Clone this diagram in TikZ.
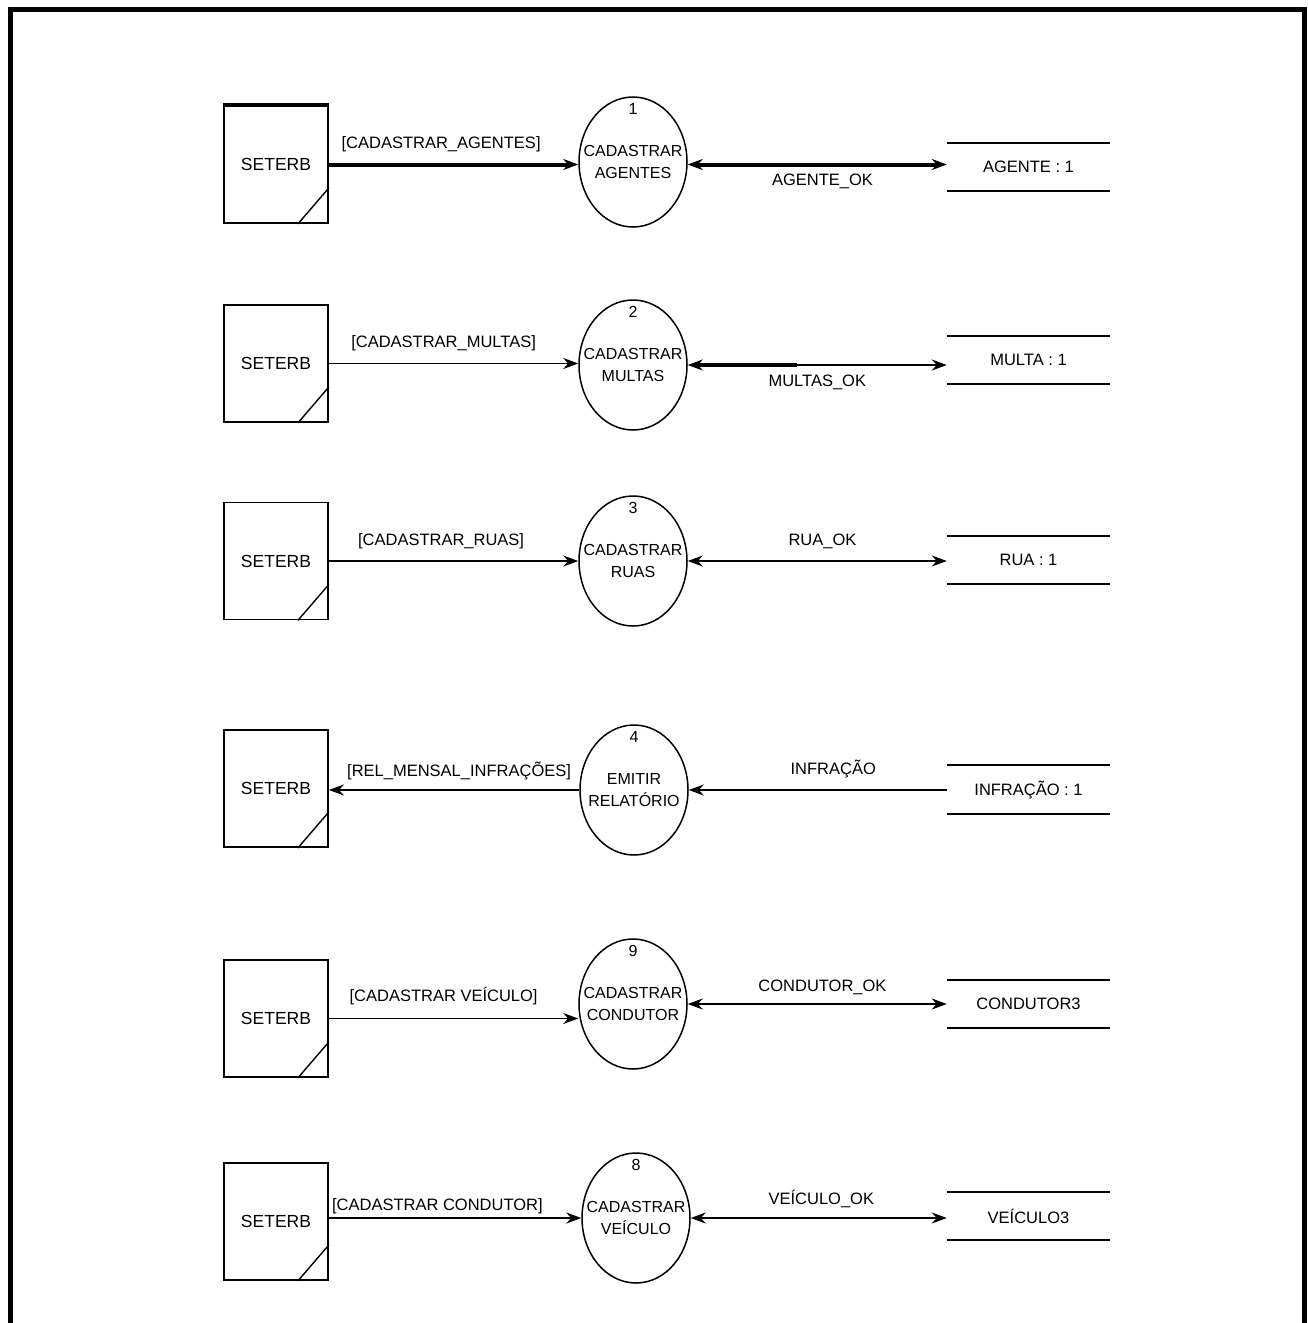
\documentclass[tikz,border=0pt]{standalone}
\usepackage{fontspec}
\setmainfont{Liberation Sans}
\usetikzlibrary{shapes.geometric,arrows.meta}
\begin{document}
\begin{tikzpicture}[x=1pt,y=-1pt,
  ext/.style={draw, line width=1.8pt, minimum width=104pt, minimum height=117pt,
    inner sep=0pt, font=\fontsize{17.5}{20}\selectfont},
  proc/.style={ellipse, draw, line width=1.5pt, minimum width=108pt,
    minimum height=130pt, inner sep=0pt},
  ptext/.style={align=center, inner sep=0pt, font=\fontsize{16}{22}\selectfont},
  num/.style={anchor=north, yshift=-7pt, inner sep=0pt, font=\fontsize{16}{18}\selectfont},
  store/.style={minimum width=163pt, minimum height=48pt, inner sep=0pt,
    font=\fontsize{16.5}{20}\selectfont},
  storeline/.style={line width=2.2pt},
  lbl/.style={font=\fontsize{16.5}{19}\selectfont, inner sep=0pt,
    text height=12pt, text depth=0pt},
  flow/.style={line width=1.8pt, -{Stealth[length=15pt,width=11pt]}},
  bothflow/.style={line width=1.8pt, {Stealth[length=15pt,width=11pt]}-{Stealth[length=15pt,width=11pt]}},
  heavy/.style={line width=4pt}
]
\useasboundingbox (0,0) rectangle (1308,1323);

% open frame around the sheet
\draw[line width=5pt] (10.5,1323) -- (10.5,9.5) -- (1304,9.5) -- (1304,1323);

% ---------- external entities ----------
\foreach \n/\y in {1/164.5, 2/363.5, 3/561, 4/788.5, 5/1018.5, 6/1221.5}{
  \node[ext] (b\n) at (276,\y) {SETERB};
  \draw[line width=1.4pt] ([yshift=36pt]b\n.south east) -- ([xshift=-31pt]b\n.south east);
}
\draw[line width=4pt] (b1.north west) -- (b1.north east);

% ---------- processes ----------
\node[proc, label={[num]north:1}, label={[ptext]center:CADASTRAR\\AGENTES}] (c1) at (633,162) {};
\node[proc, label={[num]north:2}, label={[ptext]center:CADASTRAR\\MULTAS}] (c2) at (633,365) {};
\node[proc, label={[num]north:3}, label={[ptext]center:CADASTRAR\\RUAS}] (c3) at (633,561) {};
\node[proc, label={[num]north:4}, label={[ptext]center:EMITIR\\RELATÓRIO}] (c4) at (634,790) {};
\node[proc, label={[num]north:9}, label={[ptext]center:CADASTRAR\\CONDUTOR}] (c5) at (633,1004) {};
\node[proc, label={[num]north:8}, label={[ptext]center:CADASTRAR\\VEÍCULO}] (c6) at (636,1218) {};

% ---------- data stores ----------
\node[store] (s1) at (1028.5,167) {AGENTE : 1};
\node[store] (s2) at (1028.5,360) {MULTA : 1};
\node[store] (s3) at (1028.5,560) {RUA : 1};
\node[store] (s4) at (1028.5,789.5) {INFRAÇÃO : 1};
\node[store] (s5) at (1028.5,1004) {CONDUTOR3};
\node[store] (s6) at (1028.5,1216) {VEÍCULO3};
\foreach \n in {1,...,6}{
  \draw[storeline] (s\n.north west) -- (s\n.north east);
  \draw[storeline] (s\n.south west) -- (s\n.south east);
}

% ---------- flows ----------
% row 1
\draw[flow, heavy] (b1.east) -- (b1.east -| c1.west)
  node[lbl, pos=0.45, yshift=22pt] {[CADASTRAR\_AGENTES]};
\draw[bothflow, heavy] (b1.east -| c1.east) -- (b1.east -| s1.west)
  node[lbl, pos=0.52, yshift=-15pt] {AGENTE\_OK};

% row 2
\coordinate (m2) at (797,365);
\draw[flow] (b2.east) -- (b2.east -| c2.west)
  node[lbl, pos=0.46, yshift=22pt] {[CADASTRAR\_MULTAS]};
\draw[bothflow] (c2.east) -- (c2.east -| s2.west)
  node[lbl, pos=0.50, yshift=-15pt] {MULTAS\_OK};
\draw[heavy] ([xshift=8pt]c2.east) -- (m2);

% row 3
\draw[flow] (b3.east) -- (b3.east -| c3.west)
  node[lbl, pos=0.45, yshift=22pt] {[CADASTRAR\_RUAS]};
\draw[bothflow] (c3.east) -- (c3.east -| s3.west)
  node[lbl, pos=0.52, yshift=22pt] {RUA\_OK};

% row 4
\draw[flow] (c4.west) -- (c4.west -| b4.east)
  node[lbl, pos=0.48, yshift=20pt] {[REL\_MENSAL\_INFRAÇÕES]};
\draw[flow] (c4.east -| s4.west) -- (c4.east)
  node[lbl, pos=0.44, yshift=22pt] {INFRAÇÃO};

% row 5
\draw[flow] (b5.east) -- (b5.east -| c5.west)
  node[lbl, pos=0.46, yshift=23pt] {[CADASTRAR VEÍCULO]};
\draw[bothflow] (c5.east) -- (c5.east -| s5.west)
  node[lbl, pos=0.52, yshift=19pt] {CONDUTOR\_OK};

% row 6
\draw[flow] (b6.east |- c6.west) -- (c6.west)
  node[lbl, pos=0.43, yshift=14pt] {[CADASTRAR CONDUTOR]};
\draw[bothflow] (c6.east) -- (c6.east -| s6.west)
  node[lbl, pos=0.51, yshift=20pt] {VEÍCULO\_OK};
\end{tikzpicture}
\end{document}
